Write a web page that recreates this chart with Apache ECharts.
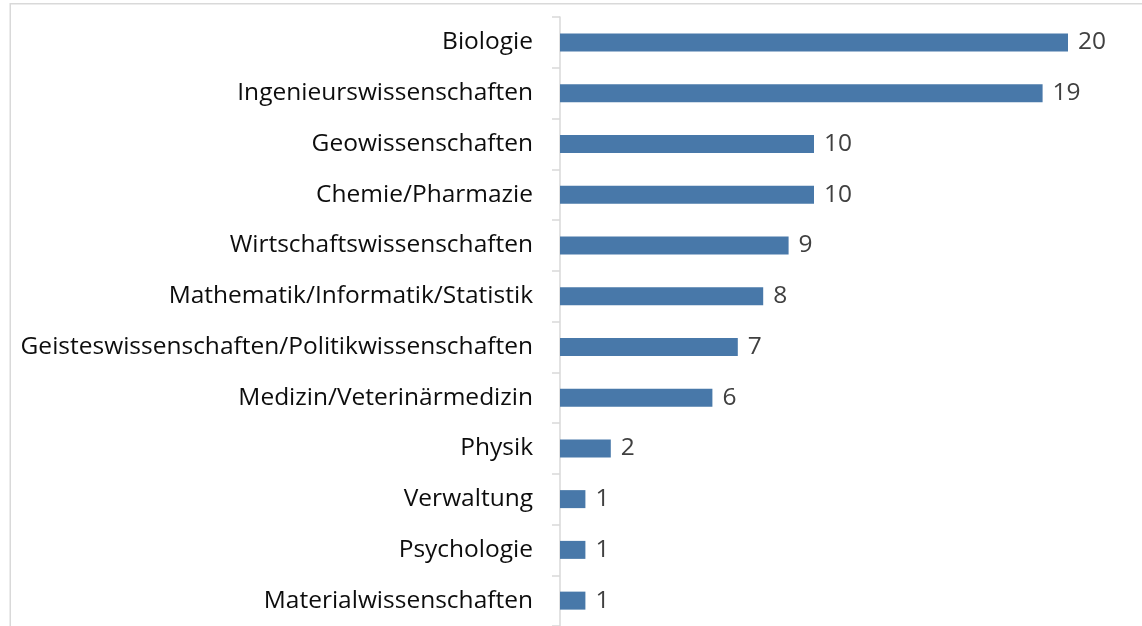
<!DOCTYPE html>
<html>
<head>
<meta charset="utf-8">
<script src="https://cdn.jsdelivr.net/npm/echarts@6/dist/echarts.min.js"></script>
<style>
  html, body { margin: 0; padding: 0; background: #fff; }
  #chart { width: 1142px; height: 626px; }
</style>
</head>
<body>
<div id="chart"></div>
<script>
// Fachbereiche, von oben nach unten
var categories = [
  'Biologie',
  'Ingenieurswissenschaften',
  'Geowissenschaften',
  'Chemie/Pharmazie',
  'Wirtschaftswissenschaften',
  'Mathematik/Informatik/Statistik',
  'Geisteswissenschaften/Politikwissenschaften',
  'Medizin/Veterinärmedizin',
  'Physik',
  'Verwaltung',
  'Psychologie',
  'Materialwissenschaften'
];
var counts = [20, 19, 10, 10, 9, 8, 7, 6, 2, 1, 1, 1];

var chart = echarts.init(document.getElementById('chart'));
chart.setOption({
  animation: false,
  textStyle: { fontFamily: 'Open Sans' },
  grid: { left: 560, right: 74, top: 17, bottom: 0 },
  // heller Rahmen oben/links
  graphic: [{
    type: 'rect',
    z: -1,
    shape: { x: 10.25, y: 3.75, width: 1300, height: 1000 },
    style: { fill: 'none', stroke: '#d9d9d9', lineWidth: 1.5 }
  }],
  xAxis: {
    type: 'value',
    min: 0,
    max: 20,
    show: false
  },
  yAxis: {
    type: 'category',
    inverse: true,
    data: categories,
    axisLine: { lineStyle: { color: '#d9d9d9', width: 1.5 } },
    axisTick: { show: true, length: 8, lineStyle: { color: '#d9d9d9', width: 1.5 } },
    axisLabel: {
      margin: 27,
      color: '#0d0d0d',
      fontSize: 24.5,
      fontFamily: 'Open Sans'
    }
  },
  series: [{
    type: 'bar',
    data: counts,
    barWidth: 18,
    itemStyle: { color: '#4878a9' },
    label: {
      show: true,
      position: 'right',
      distance: 10,
      color: '#404040',
      fontSize: 24.5,
      fontFamily: 'Open Sans'
    }
  }]
});
</script>
</body>
</html>
